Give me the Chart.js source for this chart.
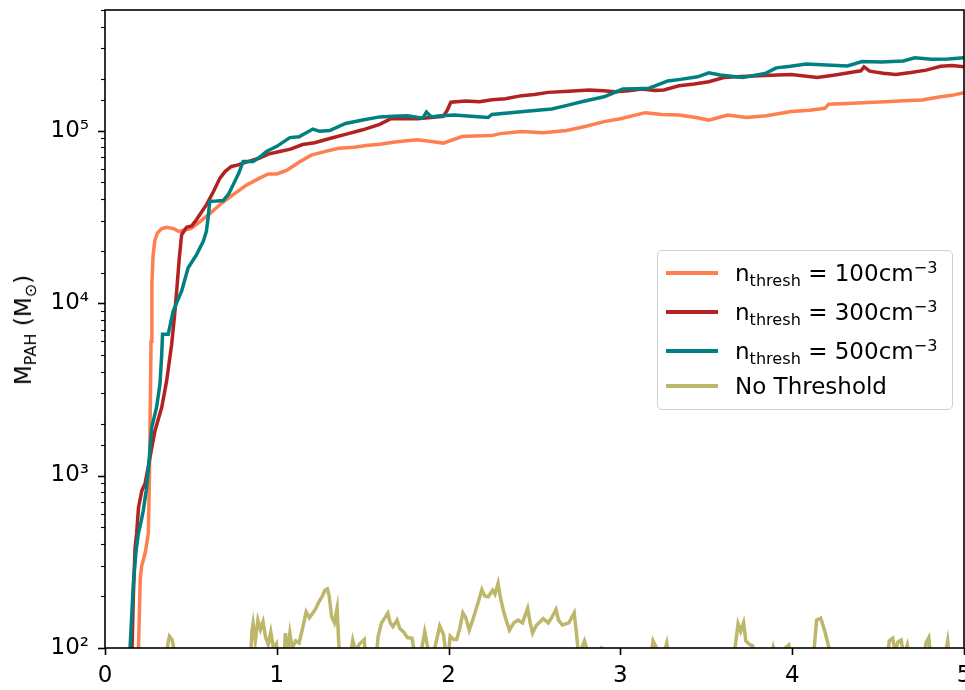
<!DOCTYPE html>
<html>
<head>
<meta charset="utf-8">
<script src="https://cdn.jsdelivr.net/npm/chart.js@4.4.1/dist/chart.umd.min.js"></script>
<style>
  body { margin: 0; background: #fff; }
  #wrap { position: relative; width: 965px; height: 690px; overflow: hidden; }
  #ytitle {
    position: absolute; left: 23px; top: 330px;
    transform: translate(-50%, -50%) rotate(-90deg);
    font: 23px "DejaVu Sans", sans-serif; white-space: nowrap; color: #000;
  }
  .sub { font-size: 0.7em; position: relative; top: 0.28em; }
  .sup { font-size: 0.7em; position: relative; top: -0.5em; }
  #legend {
    position: absolute; left: 657px; top: 250px; width: 294px; height: 158px;
    border: 1.5px solid #d0d0d0; border-radius: 5px; background: rgba(255,255,255,0.8);
    font: 23px "DejaVu Sans", sans-serif; color: #000;
  }
  .row { position: absolute; left: 0; white-space: nowrap; }
  .handle { position: absolute; left: 8px; width: 52px; height: 4px; }
  .txt { position: absolute; left: 77px; transform: translateY(-50%); }
</style>
</head>
<body>
<div id="wrap">
  <canvas id="myChart" width="965" height="690"></canvas>
  <div id="ytitle">M<span class="sub">PAH</span> (M<span class="sub">⊙</span>)</div>
  <div id="legend"></div>
</div>
<script>
// n_thresh = 100 cm^-3
const t100 = [0.18, 0.195, 0.205, 0.213, 0.235, 0.252, 0.258, 0.263, 0.268, 0.273, 0.28, 0.29, 0.305, 0.33, 0.36, 0.38, 0.40, 0.43, 0.46, 0.50, 0.55, 0.61, 0.68, 0.746, 0.82, 0.90, 0.95, 1.0, 1.06, 1.134, 1.20, 1.29, 1.36, 1.45, 1.52, 1.599, 1.70, 1.817, 1.90, 1.969, 2.078, 2.15, 2.252, 2.30, 2.426, 2.55, 2.688, 2.80, 2.905, 3.0, 3.145, 3.24, 3.341, 3.44, 3.515, 3.624, 3.733, 3.85, 3.994, 4.10, 4.19, 4.212, 4.35, 4.539, 4.65, 4.756, 4.865, 4.93, 5.0];
const m100 = [80, 100, 250, 298, 360, 460, 900, 2200, 6000, 13000, 19000, 23000, 25500, 27000, 27500, 27200, 27000, 26000, 26500, 27000, 29500, 33000, 38000, 42500, 48000, 53000, 56000, 56000, 59000, 66000, 72000, 76000, 79000, 80000, 82000, 83400, 86000, 88300, 86500, 84600, 92300, 93000, 93500, 96000, 98600, 97000, 100000, 106000, 112700, 117000, 127000, 124000, 123000, 119000, 115000, 123000, 119000, 122000, 129000, 131000, 134500, 142000, 144000, 147000, 149000, 150600, 157000, 160000, 166000];

// n_thresh = 300 cm^-3
const t300 = [0.155, 0.165, 0.175, 0.184, 0.195, 0.203, 0.215, 0.233, 0.25, 0.262, 0.291, 0.33, 0.359, 0.388, 0.405, 0.417, 0.432, 0.446, 0.475, 0.505, 0.533, 0.56, 0.591, 0.63, 0.669, 0.70, 0.736, 0.77, 0.804, 0.85, 0.90, 0.95, 1.017, 1.08, 1.15, 1.22, 1.308, 1.40, 1.50, 1.599, 1.664, 1.75, 1.817, 1.90, 1.969, 1.99, 2.013, 2.1, 2.18, 2.252, 2.33, 2.426, 2.50, 2.579, 2.70, 2.818, 2.90, 2.97, 3.05, 3.123, 3.20, 3.253, 3.341, 3.43, 3.515, 3.602, 3.70, 3.776, 3.88, 3.994, 4.07, 4.146, 4.25, 4.365, 4.40, 4.418, 4.451, 4.53, 4.604, 4.691, 4.78, 4.865, 4.93, 5.0];
const m300 = [80, 200, 380, 460, 650, 716, 820, 895, 1100, 1276, 1820, 2480, 3550, 5770, 8500, 11700, 18000, 24900, 27500, 28000, 30500, 33500, 37200, 44000, 53000, 58000, 61900, 63000, 64700, 67000, 69300, 73000, 75600, 78000, 83000, 85000, 90000, 95000, 101000, 108600, 117000, 117500, 117000, 119000, 121000, 130000, 146000, 148600, 147000, 150700, 153000, 159400, 162000, 166500, 169000, 171800, 170000, 168000, 170000, 174000, 171000, 172000, 182000, 186000, 192000, 203000, 206000, 207000, 209000, 211500, 207000, 203000, 210000, 219000, 222000, 234000, 221000, 215000, 211500, 217000, 224000, 236000, 238000, 234000];

// n_thresh = 500 cm^-3
const t500 = [0.141, 0.15, 0.165, 0.18, 0.194, 0.21, 0.223, 0.24, 0.252, 0.272, 0.30, 0.32, 0.33, 0.335, 0.368, 0.397, 0.42, 0.446, 0.484, 0.533, 0.572, 0.59, 0.60, 0.61, 0.65, 0.688, 0.72, 0.746, 0.78, 0.804, 0.862, 0.90, 0.94, 1.0, 1.076, 1.13, 1.21, 1.25, 1.308, 1.40, 1.50, 1.599, 1.68, 1.76, 1.85, 1.871, 1.90, 1.95, 2.034, 2.13, 2.23, 2.252, 2.36, 2.469, 2.60, 2.69, 2.774, 2.905, 3.014, 3.09, 3.167, 3.276, 3.35, 3.45, 3.515, 3.58, 3.711, 3.842, 3.907, 3.99, 4.081, 4.20, 4.321, 4.407, 4.52, 4.647, 4.713, 4.81, 4.909, 5.0];
const m500 = [80, 120, 237, 360, 460, 540, 628, 820, 1070, 1900, 2480, 3390, 5000, 6590, 6590, 9000, 10200, 11700, 16000, 19100, 22800, 26000, 31100, 38900, 39000, 39300, 43000, 48500, 57000, 66200, 66200, 70000, 75700, 81000, 91000, 92000, 102000, 99000, 100000, 110000, 115000, 120000, 121000, 122000, 118000, 128000, 120000, 122000, 123000, 121000, 119000, 124000, 127000, 130000, 133500, 140000, 147000, 157000, 174000, 175000, 176000, 194000, 198000, 205000, 216000, 210000, 203000, 214000, 231000, 236000, 243000, 240000, 237000, 251000, 250000, 253000, 264000, 259000, 260000, 264000];

// no threshold
const tNone = [0.0, 0.355, 0.365, 0.375, 0.39, 0.40, 0.41, 0.84, 0.855, 0.862, 0.875, 0.89, 0.905, 0.92, 0.935, 0.95, 0.965, 0.98, 0.998, 1.01, 1.04, 1.05, 1.06, 1.076, 1.09, 1.11, 1.13, 1.15, 1.171, 1.19, 1.208, 1.225, 1.245, 1.265, 1.28, 1.294, 1.305, 1.319, 1.335, 1.351, 1.36, 1.368, 1.42, 1.442, 1.46, 1.48, 1.509, 1.52, 1.575, 1.59, 1.61, 1.63, 1.646, 1.66, 1.676, 1.70, 1.715, 1.738, 1.76, 1.787, 1.80, 1.812, 1.84, 1.861, 1.875, 1.895, 1.92, 1.948, 1.97, 1.992, 2.009, 2.03, 2.047, 2.065, 2.083, 2.10, 2.12, 2.14, 2.17, 2.194, 2.21, 2.231, 2.256, 2.27, 2.288, 2.30, 2.318, 2.335, 2.354, 2.38, 2.404, 2.43, 2.46, 2.475, 2.489, 2.51, 2.551, 2.58, 2.60, 2.625, 2.64, 2.662, 2.70, 2.731, 2.745, 2.761, 2.775, 2.791, 2.81, 2.84, 2.88, 2.89, 2.90, 3.17, 3.19, 3.21, 3.25, 3.27, 3.29, 3.65, 3.67, 3.685, 3.70, 3.717, 3.73, 3.75, 3.77, 3.78, 3.87, 3.89, 3.92, 3.96, 3.98, 4.0, 4.12, 4.142, 4.166, 4.19, 4.22, 4.24, 4.55, 4.565, 4.585, 4.6, 4.615, 4.634, 4.65, 4.67, 4.69, 4.76, 4.78, 4.795, 4.81, 4.88, 4.905, 4.92, 5.0];
const mNone = [60, 60, 105, 117, 112, 100, 60, 60, 125, 139, 110, 145, 128, 142, 115, 105, 124, 100, 106, 75, 75, 122, 90, 122, 100, 110, 107, 130, 162, 150, 159, 168, 185, 200, 216, 220, 200, 152, 140, 170, 110, 80, 80, 111, 95, 105, 112, 80, 80, 117, 140, 150, 159, 140, 133, 145, 130, 124, 115, 114, 95, 80, 95, 124, 105, 80, 100, 134, 120, 80, 117, 112, 112, 130, 160, 150, 127, 145, 181, 218, 200, 198, 216, 205, 237, 200, 166, 145, 127, 140, 145, 140, 170, 140, 122, 135, 148, 140, 150, 167, 145, 136, 140, 160, 120, 80, 100, 110, 95, 80, 80, 102, 80, 80, 110, 100, 90, 107, 80, 80, 105, 138, 125, 140, 110, 105, 103, 80, 80, 101, 80, 100, 104, 80, 80, 145, 149, 125, 95, 80, 80, 110, 114, 95, 108, 111, 90, 104, 80, 80, 108, 115, 80, 80, 110, 80, 80];

const seriesLabels = ["n_thresh = 100cm^-3", "n_thresh = 300cm^-3", "n_thresh = 500cm^-3", "No Threshold"];
const legendHtml = [
  'n<span class="sub">thresh</span> = 100cm<span class="sup">−3</span>',
  'n<span class="sub">thresh</span> = 300cm<span class="sup">−3</span>',
  'n<span class="sub">thresh</span> = 500cm<span class="sup">−3</span>',
  'No Threshold'
];
const colors = ["#FF7F50", "#B22222", "#008080", "#BDB76B"];
const xTicks = [0, 1, 2, 3, 4, 5];

const sup = { "0": "⁰", "1": "¹", "2": "²", "3": "³", "4": "⁴", "5": "⁵", "6": "⁶", "7": "⁷", "8": "⁸", "9": "⁹" };
const isDecade = (v) => {
  const l = Math.log10(v);
  return Math.abs(l - Math.round(l)) < 1e-6;
};
const zip = (xs, ys) => xs.map((x, i) => ({ x: x, y: ys[i] }));

// black box around the plot and outward ticks, like matplotlib
const frameTicks = {
  id: "frameTicks",
  afterDraw(chart) {
    const { ctx, chartArea: a, scales } = chart;
    ctx.save();
    ctx.strokeStyle = "#000";
    scales.y.ticks.forEach((t) => {
      const py = Math.round(scales.y.getPixelForValue(t.value)) + 0.5;
      const major = isDecade(t.value);
      ctx.lineWidth = major ? 1.6 : 1.1;
      ctx.beginPath();
      ctx.moveTo(a.left - (major ? 7 : 4), py);
      ctx.lineTo(a.left, py);
      ctx.stroke();
    });
    scales.x.ticks.forEach((t) => {
      const px = Math.round(scales.x.getPixelForValue(t.value)) + 0.5;
      ctx.lineWidth = 1.6;
      ctx.beginPath();
      ctx.moveTo(px, a.bottom);
      ctx.lineTo(px, a.bottom + 7);
      ctx.stroke();
    });
    ctx.lineWidth = 1.6;
    ctx.strokeRect(a.left, a.top, a.right - a.left, a.bottom - a.top);
    ctx.restore();
  },
};

const ctx = document.getElementById("myChart").getContext("2d");

const myChart = new Chart(ctx, {
  type: "line",
  data: {
    datasets: [
      { label: seriesLabels[0], data: zip(t100, m100), borderColor: colors[0], order: 4 },
      { label: seriesLabels[1], data: zip(t300, m300), borderColor: colors[1], order: 3 },
      { label: seriesLabels[2], data: zip(t500, m500), borderColor: colors[2], order: 2 },
      { label: seriesLabels[3], data: zip(tNone, mNone), borderColor: colors[3], order: 1 },
    ],
  },
  options: {
    responsive: false,
    animation: false,
    datasets: {
      line: { borderWidth: 3.5, pointRadius: 0, tension: 0, fill: false },
    },
    layout: { padding: { top: 10, right: 1, left: 0, bottom: 0 } },
    plugins: {
      legend: false,
      tooltip: { enabled: false },
    },
    scales: {
      x: {
        type: "linear",
        min: 0,
        max: 5,
        afterBuildTicks: (axis) => {
          axis.ticks = xTicks.map((v) => ({ value: v }));
        },
        ticks: {
          padding: 14,
          color: "#000",
          font: { family: "DejaVu Sans", size: 23 },
          maxRotation: 0,
        },
        grid: { display: false, drawTicks: false },
        border: { display: false },
        afterFit: (axis) => {
          axis.height = 42;
          axis.paddingLeft = 0;
          axis.paddingRight = 0;
        },
      },
      y: {
        type: "logarithmic",
        min: 100,
        max: 500000,
        ticks: {
          autoSkip: false,
          padding: 16,
          color: "#000",
          font: { family: "DejaVu Sans", size: 23 },
          callback: (v) => {
            if (!isDecade(v)) return "";
            const e = String(Math.round(Math.log10(v)));
            return "10" + e.split("").map((c) => sup[c]).join("");
          },
        },
        grid: { display: false, drawTicks: false },
        border: { display: false },
        afterFit: (axis) => {
          axis.width = 105;
          axis.paddingTop = 0;
          axis.paddingBottom = 0;
        },
      },
    },
  },
  plugins: [frameTicks],
});

// legend with sub/superscripts, built from the datasets
const rowY = [22, 61, 100, 135];
const legendBox = document.getElementById("legend");
myChart.data.datasets.forEach((ds, i) => {
  const row = document.createElement("div");
  row.className = "row";
  row.style.top = rowY[i] + "px";
  row.innerHTML =
    '<span class="handle" style="top:-2px;background:' + ds.borderColor + '"></span>' +
    '<span class="txt">' + legendHtml[i] + "</span>";
  legendBox.appendChild(row);
});
</script>
</body>
</html>
